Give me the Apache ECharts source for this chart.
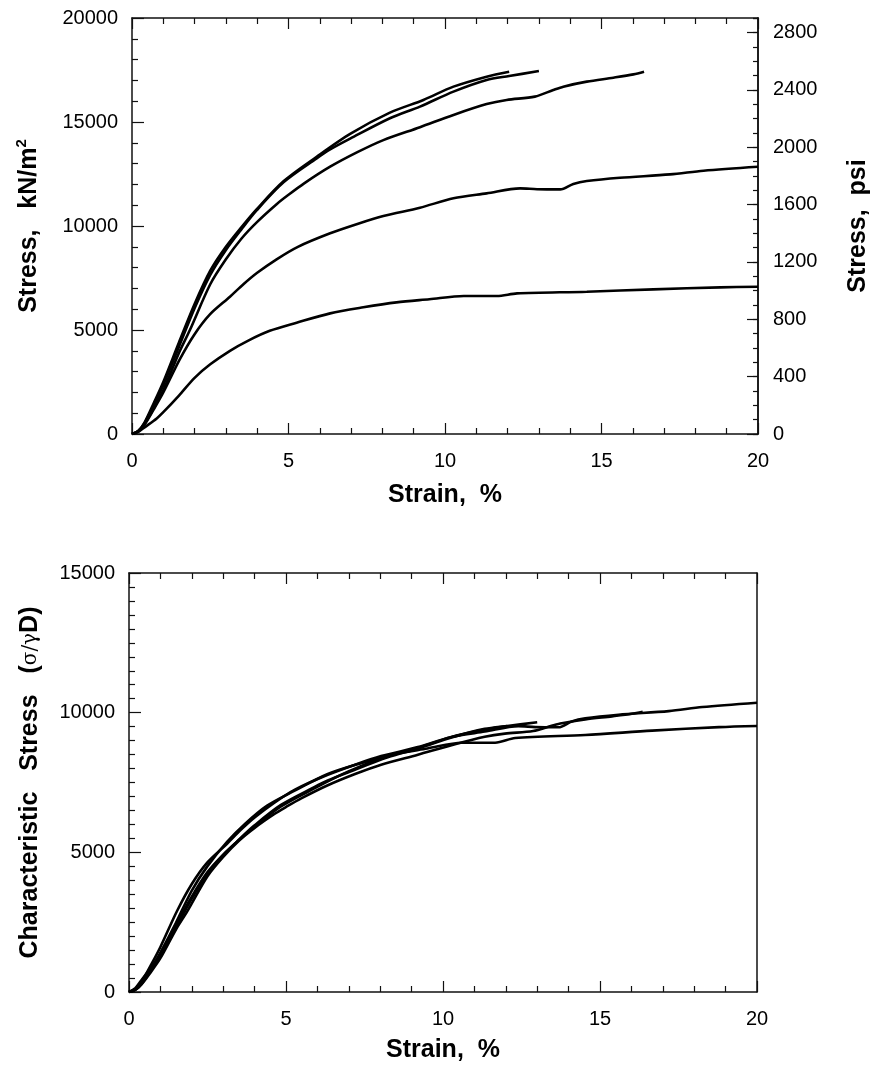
<!DOCTYPE html>
<html><head><meta charset="utf-8">
<script src="https://cdn.jsdelivr.net/npm/echarts@6/dist/echarts.min.js"></script>
<style>html,body{margin:0;padding:0;background:#fff}#c{width:875px;height:1068px}</style>
</head><body><div id="c"></div>
<script>
// ---- Top chart: stress (kN/m^2) vs strain (%) ----
const topA = [[0,0],[0.2,150],[0.4,550],[0.7,1500],[1.0,2500],[1.5,4400],[2.0,6250],[2.5,7850],[3.0,9000],[3.5,9950],[3.98,10800],[4.84,12150],[5.9,13330],[6.97,14430],[8.24,15450],[9.31,16060],[10.27,16700],[11.33,17180],[12.05,17420]];
const topB = [[0,0],[0.2,150],[0.4,520],[0.7,1400],[1.0,2350],[1.5,4200],[2.0,6050],[2.5,7650],[3.0,8850],[3.5,9850],[3.98,10750],[4.84,12100],[5.9,13250],[6.33,13680],[6.97,14200],[8.24,15180],[9.2,15740],[10.27,16460],[11.33,17020],[12.05,17210],[13.0,17450]];
const topC = [[0,0],[0.2,130],[0.4,480],[0.7,1250],[1.0,2100],[1.5,3900],[1.85,5000],[2.5,7200],[3.0,8400],[3.5,9400],[4.0,10200],[4.62,11050],[5.0,11500],[5.5,12050],[6.33,12850],[7.2,13550],[8.03,14130],[9.2,14750],[10.27,15340],[11.33,15860],[11.97,16060],[12.87,16220],[13.46,16540],[13.78,16700],[14.53,16940],[15.38,17130],[16.02,17290],[16.36,17420]];
const topD = [[0,0],[0.2,120],[0.4,450],[0.7,1200],[1.0,2000],[1.53,3600],[2.0,4800],[2.49,5750],[3.13,6600],[3.56,7200],[4.0,7750],[4.62,8400],[5.3,9000],[6.33,9650],[7.2,10100],[8.03,10480],[9.2,10880],[10.27,11330],[11.33,11570],[12.4,11810],[12.94,11770],[13.68,11760],[14.1,12020],[14.53,12160],[15.59,12320],[17.19,12480],[18.26,12660],[20,12850]];
const topE = [[0,0],[0.2,100],[0.4,320],[0.79,750],[1.0,1050],[1.5,1850],[2.0,2700],[2.5,3350],[3.13,4000],[3.7,4480],[4.4,4960],[5.26,5350],[6.33,5800],[7.39,6090],[8.45,6330],[9.5,6480],[10.6,6635],[11.66,6635],[12.3,6760],[14.53,6840],[16.66,6955],[18.79,7050],[20,7080]];

// ---- Bottom chart: characteristic stress vs strain (%) ----
const botA = [[0,0],[0.2,82],[0.4,301],[0.7,820],[1.0,1367],[1.5,2406],[2.0,3417],[2.5,4292],[3.0,4921],[3.5,5440],[3.98,5905],[4.84,6643],[5.9,7288],[6.97,7890],[8.24,8447],[9.31,8781],[10.27,9131],[11.33,9393],[12.05,9524]];
const botB = [[0,0],[0.2,83],[0.4,288],[0.7,775],[1.0,1300],[1.5,2324],[2.0,3348],[2.5,4234],[3.0,4898],[3.5,5451],[3.98,5949],[4.84,6696],[5.9,7333],[6.33,7570],[6.97,7858],[8.24,8401],[9.2,8711],[10.27,9109],[11.33,9419],[12.05,9524],[13.0,9657]];
const botC = [[0,0],[0.2,75],[0.4,276],[0.7,720],[1.0,1210],[1.5,2247],[1.85,2880],[2.5,4147],[3.0,4839],[3.5,5415],[4.0,5876],[4.62,6365],[5.0,6624],[5.5,6941],[6.33,7402],[7.2,7805],[8.03,8139],[9.2,8497],[10.27,8836],[11.33,9136],[11.97,9251],[12.87,9343],[13.46,9528],[13.78,9620],[14.53,9758],[15.38,9868],[16.02,9960],[16.36,10035]];
const botD = [[0,0],[0.2,97],[0.4,363],[0.7,967],[1.0,1612],[1.53,2901],[2.0,3868],[2.49,4633],[3.13,5318],[3.56,5802],[4.0,6245],[4.62,6769],[5.3,7252],[6.33,7776],[7.2,8139],[8.03,8445],[9.2,8767],[10.27,9130],[11.33,9323],[12.4,9517],[12.94,9484],[13.68,9476],[14.1,9686],[14.53,9799],[15.59,9927],[17.19,10056],[18.26,10201],[20,10355]];
const botE = [[0,0],[0.2,135],[0.4,430],[0.79,1009],[1.0,1412],[1.5,2489],[2.0,3632],[2.5,4506],[3.13,5381],[3.7,6026],[4.4,6672],[5.26,7197],[6.33,7802],[7.39,8192],[8.45,8515],[9.5,8717],[10.6,8925],[11.66,8925],[12.3,9093],[14.53,9201],[16.66,9356],[18.79,9483],[20,9524]];

const KPA_PER_PSI = 6.894757;
const FONT = 'Liberation Sans, Arial, sans-serif';
const AX = '#111';
const TICK_FS = 20;
const TITLE_FS = 25;
const plain = v => String(v);

function xAx(grid, pos, labels, gap) {
  return {
    type: 'value', gridIndex: grid, position: pos, min: 0, max: 20, interval: 5,
    name: labels ? 'Strain,  %' : '', nameLocation: 'middle', nameGap: gap,
    nameTextStyle: { fontFamily: FONT, fontSize: TITLE_FS, fontWeight: 'bold', color: '#000' },
    axisLine: { show: true, onZero: false, lineStyle: { color: AX, width: 1.5 } },
    axisTick: { show: true, inside: true, length: 11, lineStyle: { color: AX, width: 1.2 } },
    minorTick: { show: true, splitNumber: 5, length: 6, lineStyle: { color: AX, width: 1.2 } },
    axisLabel: { show: labels, margin: 17, fontFamily: FONT, fontSize: TICK_FS, color: '#000', formatter: plain },
    splitLine: { show: false }, minorSplitLine: { show: false }
  };
}

const psiMax = 20000 / KPA_PER_PSI;

const option = {
  animation: false,
  backgroundColor: '#fff',
  grid: [
    { left: 132, top: 18, width: 626, height: 416, outerBoundsMode: 'none', containLabel: false },
    { left: 129, top: 573, width: 628, height: 419, outerBoundsMode: 'none', containLabel: false }
  ],
  xAxis: [xAx(0, 'bottom', true, 49), xAx(0, 'top', false, 0), xAx(1, 'bottom', true, 46), xAx(1, 'top', false, 0)],
  yAxis: [
    {
      type: 'value', gridIndex: 0, position: 'left', min: 0, max: 20000, interval: 5000,
      name: '{a|Stress,   kN/m}{s|2}', nameLocation: 'middle', nameGap: 88,
      nameTextStyle: { rich: {
        a: { fontFamily: FONT, fontSize: TITLE_FS, fontWeight: 'bold', color: '#000', lineHeight: 30 },
        s: { fontFamily: FONT, fontSize: 15, fontWeight: 'bold', color: '#000', lineHeight: 15, verticalAlign: 'top' }
      } },
      axisLine: { show: true, onZero: false, lineStyle: { color: AX, width: 1.5 } },
      axisTick: { show: true, inside: true, length: 12, lineStyle: { color: AX, width: 1.2 } },
      minorTick: { show: true, splitNumber: 5, length: 6, lineStyle: { color: AX, width: 1.2 } },
      axisLabel: { margin: 14, fontFamily: FONT, fontSize: TICK_FS, color: '#000', formatter: plain },
      splitLine: { show: false }
    },
    {
      type: 'value', gridIndex: 0, position: 'right', min: 0, max: psiMax, interval: 400,
      name: 'Stress,  psi', nameLocation: 'middle', nameGap: 88, nameRotate: 90,
      nameTextStyle: { fontFamily: FONT, fontSize: TITLE_FS, fontWeight: 'bold', color: '#000' },
      axisLine: { show: true, onZero: false, lineStyle: { color: AX, width: 1.5 } },
      axisTick: { show: true, inside: true, length: 11, lineStyle: { color: AX, width: 1.2 } },
      axisLabel: { margin: 15, fontFamily: FONT, fontSize: TICK_FS, color: '#000', showMaxLabel: false,
        formatter: v => (Math.abs(v % 400) < 1e-6 ? String(v) : '') },
      splitLine: { show: false }
    },
    {
      type: 'value', gridIndex: 0, position: 'right', min: 0, max: psiMax, interval: 100,
      axisLine: { show: true, onZero: false, lineStyle: { color: AX, width: 1.5 } },
      axisTick: { show: true, inside: true, length: 5, lineStyle: { color: AX, width: 1.2 } },
      axisLabel: { show: false }, splitLine: { show: false }
    },
    {
      type: 'value', gridIndex: 1, position: 'left', min: 0, max: 15000, interval: 5000,
      name: '{b|Characteristic   Stress   (}{g|σ/γ}{b|D)}', nameLocation: 'middle', nameGap: 86,
      nameTextStyle: { rich: {
        b: { fontFamily: FONT, fontSize: TITLE_FS, fontWeight: 'bold', color: '#000' },
        g: { fontFamily: 'DejaVu Serif, serif', fontSize: 20, color: '#000' }
      } },
      axisLine: { show: true, onZero: false, lineStyle: { color: AX, width: 1.5 } },
      axisTick: { show: true, inside: true, length: 12, lineStyle: { color: AX, width: 1.2 } },
      minorTick: { show: true, splitNumber: 10, length: 6, lineStyle: { color: AX, width: 1.2 } },
      axisLabel: { margin: 14, fontFamily: FONT, fontSize: TICK_FS, color: '#000', formatter: plain },
      splitLine: { show: false }
    },
    {
      type: 'value', gridIndex: 1, position: 'right', min: 0, max: 15000,
      axisLine: { show: true, onZero: false, lineStyle: { color: AX, width: 1.5 } },
      axisTick: { show: false }, axisLabel: { show: false }, splitLine: { show: false }
    }
  ],
  series: []
};

function addLine(data, xi, yi) {
  option.series.push({
    type: 'line', xAxisIndex: xi, yAxisIndex: yi, data: data,
    showSymbol: false, symbol: 'none', smooth: 0.3,
    lineStyle: { color: '#000', width: 2.6 }, silent: true
  });
}
[topA, topB, topC, topD, topE].forEach(d => addLine(d, 0, 0));
[botA, botB, botC, botD, botE].forEach(d => addLine(d, 2, 3));

const chart = echarts.init(document.getElementById('c'), null, { renderer: 'canvas' });
chart.setOption(option);
</script></body></html>
